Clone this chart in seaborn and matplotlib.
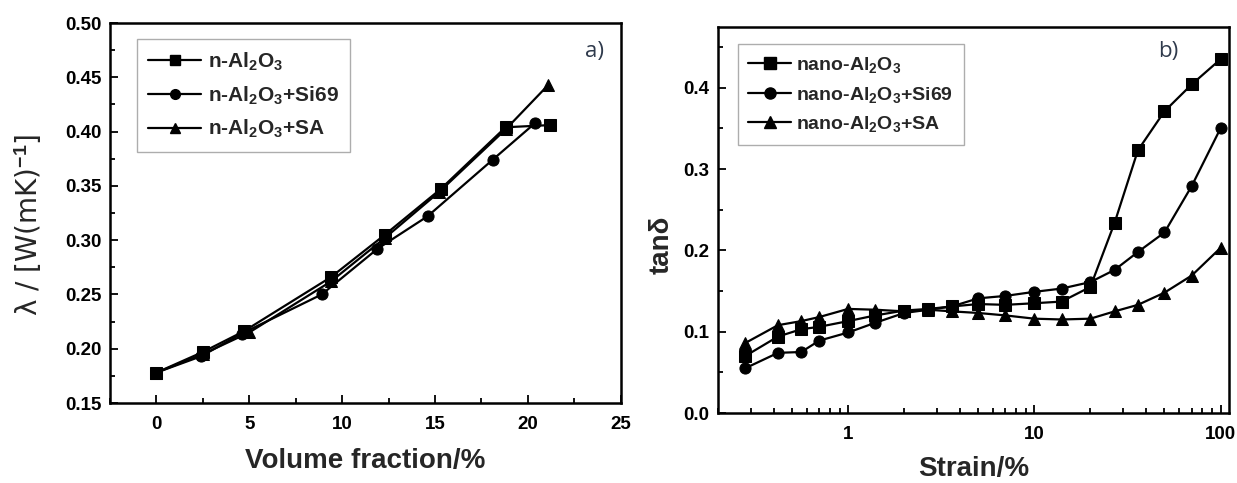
import numpy as np
import pandas as pd
import matplotlib
matplotlib.use("Agg")
import matplotlib.pyplot as plt
from matplotlib.ticker import MultipleLocator, FuncFormatter, LogLocator, NullFormatter
from matplotlib.lines import Line2D
import seaborn as sns

# ---- panel a: thermal conductivity vs filler volume fraction ----
vf_al2o3 = [0, 2.5, 4.7, 9.4, 12.3, 15.3, 18.8, 21.2]
k_al2o3 = [0.178, 0.197, 0.216, 0.266, 0.305, 0.347, 0.404, 0.406]
vf_si69 = [0, 2.4, 4.6, 8.9, 11.9, 14.6, 18.1, 20.4]
k_si69 = [0.178, 0.193, 0.214, 0.250, 0.292, 0.322, 0.374, 0.408]
vf_sa = [0, 2.5, 5.0, 9.4, 12.3, 15.2, 18.8, 21.1]
k_sa = [0.178, 0.195, 0.215, 0.262, 0.302, 0.344, 0.402, 0.443]
labels_a = ["n-Al$_2$O$_3$", "n-Al$_2$O$_3$+Si69", "n-Al$_2$O$_3$+SA"]

# ---- panel b: loss factor vs strain ----
strain = [0.28, 0.42, 0.56, 0.7, 1.0, 1.4, 2.0, 2.7, 3.6, 5.0, 7.0, 10, 14, 20, 27, 36, 50, 70, 100]
tan_al2o3 = [0.070, 0.094, 0.103, 0.106, 0.113, 0.120, 0.126, 0.128, 0.131, 0.134, 0.133, 0.135,
             0.137, 0.155, 0.234, 0.323, 0.371, 0.404, 0.435]
tan_si69 = [0.055, 0.074, 0.075, 0.089, 0.099, 0.111, 0.123, 0.127, 0.131, 0.141, 0.144, 0.149,
            0.153, 0.161, 0.176, 0.198, 0.222, 0.279, 0.350]
tan_sa = [0.086, 0.108, 0.113, 0.118, 0.128, 0.127, 0.125, 0.127, 0.125, 0.123, 0.120, 0.116,
          0.115, 0.116, 0.125, 0.133, 0.148, 0.169, 0.203]
labels_b = ["nano-Al$_2$O$_3$", "nano-Al$_2$O$_3$+Si69", "nano-Al$_2$O$_3$+SA"]

marker_list = ["s", "o", "^"]

sns.set_theme(style="ticks")
plt.rcParams["font.family"] = ["Liberation Sans", "DejaVu Sans"]
plt.rcParams["mathtext.fontset"] = "custom"
plt.rcParams["mathtext.rm"] = "Liberation Sans:bold"
plt.rcParams["mathtext.it"] = "Liberation Sans:bold"
plt.rcParams["mathtext.bf"] = "Liberation Sans:bold"
plt.rcParams["axes.linewidth"] = 1.8

df_a = pd.concat([
    pd.DataFrame({"vf": vf_al2o3, "k": k_al2o3, "series": labels_a[0]}),
    pd.DataFrame({"vf": vf_si69, "k": k_si69, "series": labels_a[1]}),
    pd.DataFrame({"vf": vf_sa, "k": k_sa, "series": labels_a[2]}),
], ignore_index=True)

df_b = pd.concat([
    pd.DataFrame({"strain": strain, "tan": tan_al2o3, "series": labels_b[0]}),
    pd.DataFrame({"strain": strain, "tan": tan_si69, "series": labels_b[1]}),
    pd.DataFrame({"strain": strain, "tan": tan_sa, "series": labels_b[2]}),
], ignore_index=True)

fig = plt.figure(figsize=(12.37, 4.83), dpi=100)
ax1 = fig.add_axes([0.0889, 0.1656, 0.4129, 0.7867])
ax2 = fig.add_axes([0.5804, 0.1449, 0.4131, 0.7998])

TICK_SIZE = 13.5

# panel a
sns.lineplot(data=df_a, x="vf", y="k", hue="series", style="series",
             palette=["black"] * 3, markers=dict(zip(labels_a, marker_list)),
             dashes=False, sort=False, estimator=None, markersize=8,
             markeredgecolor="black", linewidth=1.6, legend=False, ax=ax1)
ax1.set_xlim(-2.5, 25)
ax1.set_ylim(0.15, 0.50)
ax1.xaxis.set_major_locator(MultipleLocator(5))
ax1.xaxis.set_minor_locator(MultipleLocator(2.5))
ax1.yaxis.set_major_locator(MultipleLocator(0.05))
ax1.yaxis.set_minor_locator(MultipleLocator(0.025))
ax1.xaxis.set_major_formatter(FuncFormatter(lambda v, p: f"{v:.0f}"))
ax1.yaxis.set_major_formatter(FuncFormatter(lambda v, p: f"{v:.2f}"))
ax1.set_xlabel("Volume fraction/%", fontsize=20, fontweight="bold", labelpad=11)
ax1.set_ylabel("λ / [W(mK)$^{-1}$]", fontsize=20, fontweight="normal")
ax1.yaxis.label.set_family(["DejaVu Sans"])
ax1.yaxis.set_label_coords(-0.13, 0.47)
ax1.text(0.948, 0.925, "a)", transform=ax1.transAxes, fontsize=16,
         family=["Open Sans", "DejaVu Sans"], color="#2f3a4c", ha="center", va="center")

handles_a = [Line2D([], [], color="black", marker=m, markersize=7, linewidth=1.6)
             for m in marker_list]
leg_a = ax1.legend(handles_a, labels_a, loc="upper left", bbox_to_anchor=(0.053, 0.958),
                   borderaxespad=0, frameon=True, fancybox=False, handlelength=2.5,
                   handletextpad=0.35, labelspacing=0.55, borderpad=0.55,
                   prop=dict(size=15, weight="bold"))
leg_a.get_frame().set_edgecolor("#999999")
leg_a.get_frame().set_linewidth(1.0)

# panel b
sns.lineplot(data=df_b, x="strain", y="tan", hue="series", style="series",
             palette=["black"] * 3, markers=dict(zip(labels_b, marker_list)),
             dashes=False, sort=False, estimator=None, markersize=8,
             markeredgecolor="black", linewidth=1.6, legend=False, ax=ax2)
ax2.set_xscale("log")
ax2.set_xlim(0.2, 111)
ax2.set_ylim(0, 0.475)
ax2.xaxis.set_major_locator(LogLocator(base=10))
ax2.xaxis.set_minor_locator(LogLocator(base=10, subs=np.arange(2, 10)))
ax2.xaxis.set_minor_formatter(NullFormatter())
ax2.xaxis.set_major_formatter(FuncFormatter(lambda v, p: f"{v:g}"))
ax2.yaxis.set_major_locator(MultipleLocator(0.1))
ax2.yaxis.set_minor_locator(MultipleLocator(0.05))
ax2.yaxis.set_major_formatter(FuncFormatter(lambda v, p: f"{v:.1f}"))
ax2.set_xlabel("Strain/%", fontsize=20, fontweight="bold", labelpad=10)
ax2.set_ylabel("tanδ", fontsize=20, fontweight="bold")
ax2.yaxis.set_label_coords(-0.085, 0.435)
ax2.text(0.881, 0.935, "b)", transform=ax2.transAxes, fontsize=16,
         family=["Open Sans", "DejaVu Sans"], color="#2f3a4c", ha="center", va="center")

handles_b = [Line2D([], [], color="black", marker=m, markersize=8, linewidth=1.6)
             for m in marker_list]
leg_b = ax2.legend(handles_b, labels_b, loc="upper left", bbox_to_anchor=(0.0386, 0.955),
                   borderaxespad=0, frameon=True, fancybox=False, handlelength=2.2,
                   handletextpad=0.25, labelspacing=0.5, borderpad=0.55,
                   prop=dict(size=14, weight="bold"))
leg_b.get_frame().set_edgecolor("#999999")
leg_b.get_frame().set_linewidth(1.0)

for ax in (ax1, ax2):
    ax.tick_params(axis="both", which="both", direction="in", top=False, right=False,
                   width=1.3, colors="black")
    ax.tick_params(axis="both", which="major", length=6)
    ax.tick_params(axis="y", which="major", pad=6)
    ax.tick_params(axis="x", which="major", pad=9)
    ax.tick_params(axis="both", which="minor", length=3.5)
    for lab in ax.get_xticklabels() + ax.get_yticklabels():
        lab.set_fontsize(TICK_SIZE)
        lab.set_fontweight("bold")
    for sp in ax.spines.values():
        sp.set_visible(True)
        sp.set_linewidth(1.8)
        sp.set_color("black")

fig.savefig("out.png", dpi=100, facecolor="white")
